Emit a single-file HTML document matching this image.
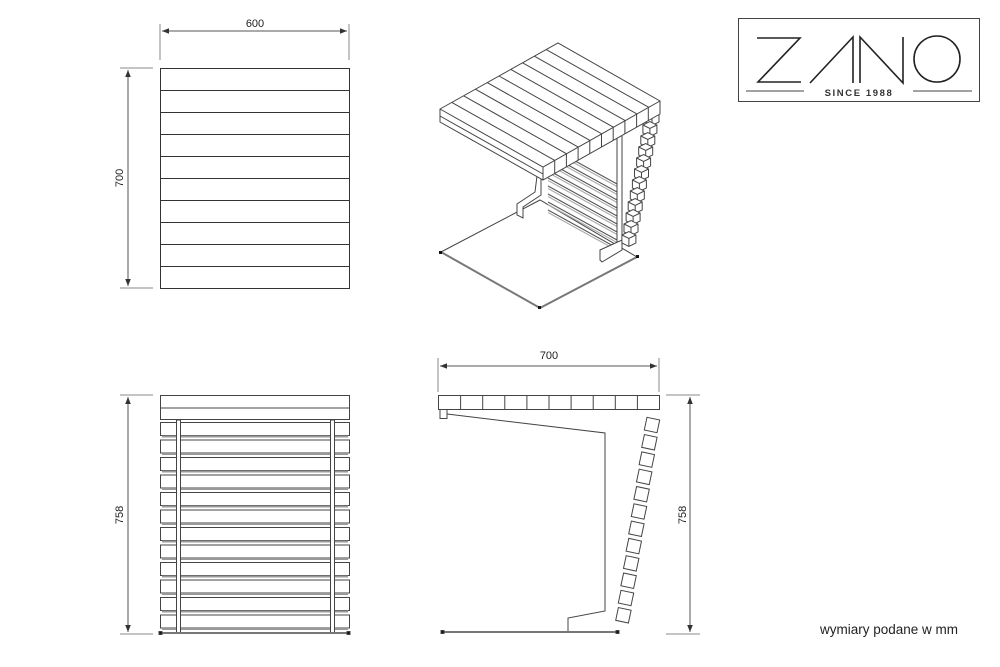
<!DOCTYPE html>
<html><head><meta charset="utf-8"><style>
html,body{margin:0;padding:0;background:#fff}
svg{display:block}
text{font-family:"Liberation Sans",Arial,sans-serif;fill:#222}
</style></head><body>
<svg id="s" width="1000" height="667" viewBox="0 0 1000 667" xmlns="http://www.w3.org/2000/svg">
<defs>
<marker id="a" viewBox="0 0 10 10" refX="10" refY="5" markerWidth="7" markerHeight="7" orient="auto-start-reverse"><path d="M0,1 L10,5 L0,9z" fill="#333"/></marker>
</defs>
<g stroke="#888" stroke-width="1" fill="none">
<line x1="160" y1="24" x2="160" y2="60"/><line x1="349" y1="24" x2="349" y2="60"/>
<line x1="162" y1="31" x2="347" y2="31" marker-start="url(#a)" marker-end="url(#a)" stroke="#555"/>
<line x1="120" y1="68" x2="153" y2="68"/><line x1="120" y1="288" x2="153" y2="288"/>
<line x1="128" y1="70" x2="128" y2="286" marker-start="url(#a)" marker-end="url(#a)" stroke="#555"/>
<line x1="120" y1="395" x2="153" y2="395"/><line x1="120" y1="634" x2="153" y2="634"/>
<line x1="128" y1="397" x2="128" y2="632" marker-start="url(#a)" marker-end="url(#a)" stroke="#555"/>
<line x1="438" y1="358" x2="438" y2="392"/><line x1="659" y1="358" x2="659" y2="392"/>
<line x1="440" y1="366" x2="657" y2="366" marker-start="url(#a)" marker-end="url(#a)" stroke="#555"/>
<line x1="666" y1="395" x2="700" y2="395"/><line x1="666" y1="634" x2="700" y2="634"/>
<line x1="690" y1="397" x2="690" y2="632" marker-start="url(#a)" marker-end="url(#a)" stroke="#555"/>
</g>
<text x="255" y="27" font-size="11" text-anchor="middle">600</text>
<text transform="translate(123,178) rotate(-90)" font-size="11" text-anchor="middle">700</text>
<text transform="translate(123,515) rotate(-90)" font-size="11" text-anchor="middle">758</text>
<text x="549" y="359" font-size="11" text-anchor="middle">700</text>
<text transform="translate(686,515) rotate(-90)" font-size="11" text-anchor="middle">758</text>
<text x="820" y="634" font-size="13.5">wymiary podane w mm</text>

<g id="top" stroke="#333" stroke-width="1" fill="none">
<rect x="160.5" y="68.5" width="189" height="220"/>
</g>
<g id="front" stroke="#444" stroke-width="1" fill="none">
<rect x="160.5" y="395.5" width="189" height="24"/>
<line x1="160" y1="408" x2="350" y2="408"/>
</g>
<g id="side" stroke="#444" stroke-width="1" fill="none">
<rect x="438.5" y="395.5" width="221" height="14"/>
<path d="M440,409.5 h7 v9 h-7z"/>
<path d="M447,414 L605,433 L605,611 L568,618 L568,631"/>
</g>
<g id="iso" stroke="#444" stroke-width="1" fill="#fff">
</g>

<g stroke="#222" fill="none">
<rect x="738.5" y="18.5" width="241" height="83" stroke="#444"/>
<path d="M757,38 H800 L758,82 H801" stroke-width="1.6"/>
<path d="M810,83 L853,37 V83" stroke-width="1.6"/>
<path d="M860,83 V37 L903,83 V37" stroke-width="1.6"/>
<circle cx="937" cy="59" r="23" stroke-width="1.6"/>
</g>
<rect x="800" y="86" width="110" height="12" fill="#fff"/>
<line x1="746" y1="91" x2="804" y2="91" stroke="#444"/>
<line x1="913" y1="91" x2="972" y2="91" stroke="#444"/>
<text x="859" y="96" font-size="9.5" text-anchor="middle" letter-spacing="1.6" font-weight="bold" style="fill:#333">SINCE 1988</text>
</svg>
<script>
var NS="http://www.w3.org/2000/svg";
function el(p,t,a){var e=document.createElementNS(NS,t);for(var k in a)e.setAttribute(k,a[k]);document.getElementById(p).appendChild(e);return e;}
for(var i=1;i<10;i++){el("top","line",{x1:160,x2:350,y1:68.5+22*i,y2:68.5+22*i});}
for(var i=0;i<12;i++){var y=420+i*17.5;
 el("front","rect",{x:160.5,y:y+2.5,width:189,height:13});
 el("front","line",{x1:162,x2:348,y1:y+16.5,y2:y+16.5,stroke:"#999","stroke-width":2});}
el("front","rect",{x:176.5,y:420,width:4,height:213,fill:"#fff"});
el("front","rect",{x:330.5,y:420,width:4,height:213,fill:"#fff"});
el("front","line",{x1:162,x2:348,y1:633,y2:633,stroke:"#777","stroke-width":2});
el("front","rect",{x:159,y:631.5,width:3,height:3,fill:"#111"});
el("front","rect",{x:347,y:631.5,width:3,height:3,fill:"#111"});
for(var i=1;i<10;i++){var x=438.5+22.1*i;el("side","line",{x1:x,x2:x,y1:396,y2:409});}
for(var i=0;i<12;i++){var cx=652-i*2.6,cy=425+i*17.3;
 el("side","rect",{x:cx-6.5,y:cy-6.5,width:13,height:13,transform:"rotate(12 "+cx+" "+cy+")",fill:"#fff"});}
el("side","line",{x1:442,x2:618,y1:632,y2:632,stroke:"#777","stroke-width":2});
el("side","rect",{x:441,y:630.5,width:3,height:3,fill:"#111"});
el("side","rect",{x:616,y:630.5,width:3,height:3,fill:"#111"});
var g="iso";
el(g,"path",{d:"M441,252 L540,200 L637,257 L540,308 Z"});
el(g,"path",{d:"M441,252 L540,308 L637,257",stroke:"#777","stroke-width":2,fill:"none"});
for(var i=0;i<9;i++){var y=146+i*8;el(g,"line",{x1:548,y1:y,x2:617,y2:y+38,stroke:"#555"});el(g,"line",{x1:548,y1:y+2.5,x2:617,y2:y+40.5,stroke:"#aaa"});}
el(g,"path",{d:"M617,136 L622,134 L622,248 L617,250 Z"});
el(g,"path",{d:"M537,176 L541,174 L541,195 L523,207 L523,218 L517,215 L517,204 L535,192 Z"});
el(g,"path",{d:"M622,240 L622,250 L602,262 L600,260 L600,250 Z"});
for(var i=0;i<12;i++){var cx=652-i*2.1,cy=117+i*11;
 el(g,"path",{d:"M"+(cx-7)+","+(cy-3)+" l7,-3.5 l7,3.5 l0,8 l-7,3.5 l-7,-3.5 z"});
 el(g,"path",{d:"M"+(cx-7)+","+(cy-3)+" l7,3.5 l7,-3.5 M"+cx+","+(cy+0.5)+" l0,8",fill:"none"});}
el(g,"path",{d:"M440,109 L558,43 L660,101 L660,114 L543,180 L440,122 Z"});
el(g,"path",{d:"M440,109 L543,167 L660,101 M543,167 L543,180 M440,116 L543,174",fill:"none"});
for(var i=1;i<10;i++){var sx=440+11.8*i,sy=109-6.6*i;
 el(g,"line",{x1:sx,y1:sy,x2:sx+103,y2:sy+58});
 var fx=543+11.7*i,fy=167-6.6*i;el(g,"line",{x1:fx,y1:fy,x2:fx,y2:fy+13});}
el(g,"rect",{x:439,y:251,width:3,height:3,fill:"#111",stroke:"none"});
el(g,"rect",{x:538,y:306,width:3,height:3,fill:"#111",stroke:"none"});
el(g,"rect",{x:636,y:255,width:3,height:3,fill:"#111",stroke:"none"});
</script>
</body></html>
